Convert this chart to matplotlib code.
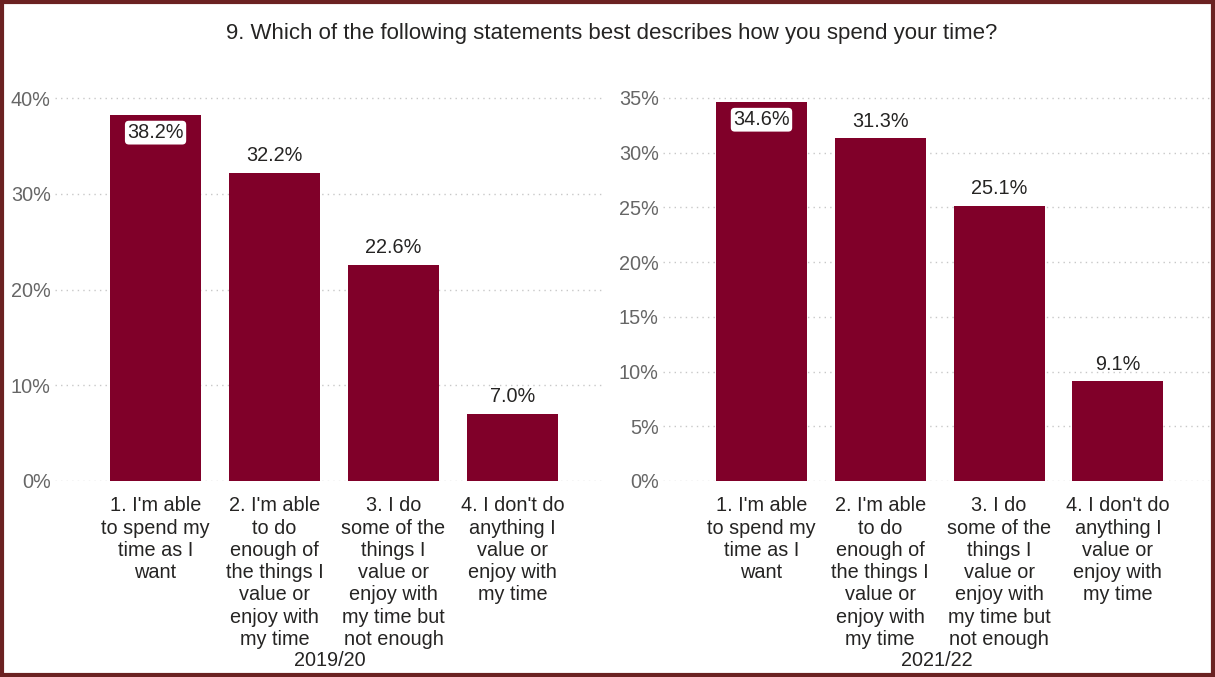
import matplotlib.pyplot as plt
from matplotlib.patches import Rectangle

plt.rcParams['font.family'] = ['Liberation Sans', 'DejaVu Sans']

# data
categories = [
    "1. I'm able\nto spend my\ntime as I\nwant",
    "2. I'm able\nto do\nenough of\nthe things I\nvalue or\nenjoy with\nmy time",
    "3. I do\nsome of the\nthings I\nvalue or\nenjoy with\nmy time but\nnot enough",
    "4. I don't do\nanything I\nvalue or\nenjoy with\nmy time",
]
values_2019 = [38.2, 32.2, 22.6, 7.0]
values_2021 = [34.6, 31.3, 25.1, 9.1]
yticks_2019 = [0, 10, 20, 30, 40]
yticks_2021 = [0, 5, 10, 15, 20, 25, 30, 35]
title = "9. Which of the following statements best describes how you spend your time?"

BAR = '#800029'
TXT = '#252423'
GREY = '#666666'
FS = 14.3
W, H = 1215, 677

fig = plt.figure(figsize=(W / 100, H / 100), dpi=100)
fig.patch.set_facecolor('white')
fig.patches.append(Rectangle((2 / W, 2 / H), 1 - 4 / W, 1 - 4 / H, transform=fig.transFigure,
                             fill=False, edgecolor='#6B2222', linewidth=3))
fig.text(612 / W, 1 - 34 / H, title, ha='center', va='center', fontsize=16, color=TXT)


def panel(x0, x1, xlim, ylim, values, yticks, period):
    ax = fig.add_axes([x0 / W, (H - 481) / H, (x1 - x0) / W, 391 / H])
    x = range(len(values))
    ax.bar(x, values, width=0.765, color=BAR)
    ax.set_xlim(*xlim)
    ax.set_ylim(0, ylim)
    ax.set_yticks(yticks)
    ax.set_yticklabels([f'{t}%' for t in yticks])
    ax.yaxis.grid(True, linestyle=(0, (1, 3)), color='#c8c8c8', linewidth=1)
    ax.set_axisbelow(True)
    for s in ax.spines.values():
        s.set_visible(False)
    ax.tick_params(axis='y', length=0, pad=3, labelsize=FS, labelcolor=GREY)
    ax.tick_params(axis='x', length=0, pad=11)
    ax.set_xticks(list(x))
    ax.set_xticklabels(categories, fontsize=FS, color=TXT, linespacing=1.22, va='top')
    fig.text((x0 + x1) / 2 / W, 1 - 661 / H, period, ha='center', va='center',
             fontsize=FS, color=TXT)
    for i, v in enumerate(values):
        if v > ylim * 0.9:
            ax.annotate(f'{v:.1f}%', (i, v), xytext=(0, -12.5), textcoords='offset points',
                        ha='center', va='center', fontsize=FS, color=TXT,
                        bbox=dict(boxstyle='round,pad=0.12,rounding_size=0.2', fc='white', ec='none'))
        else:
            ax.annotate(f'{v:.1f}%', (i, v), xytext=(0, 12.5), textcoords='offset points',
                        ha='center', va='center', fontsize=FS, color=TXT)
    return ax


panel(55, 605, (-0.845, 3.777), 40.84, values_2019, yticks_2019, '2019/20')
panel(663, 1210, (-0.829, 3.775), 35.73, values_2021, yticks_2021, '2021/22')

fig.savefig('out.png', dpi=100)
